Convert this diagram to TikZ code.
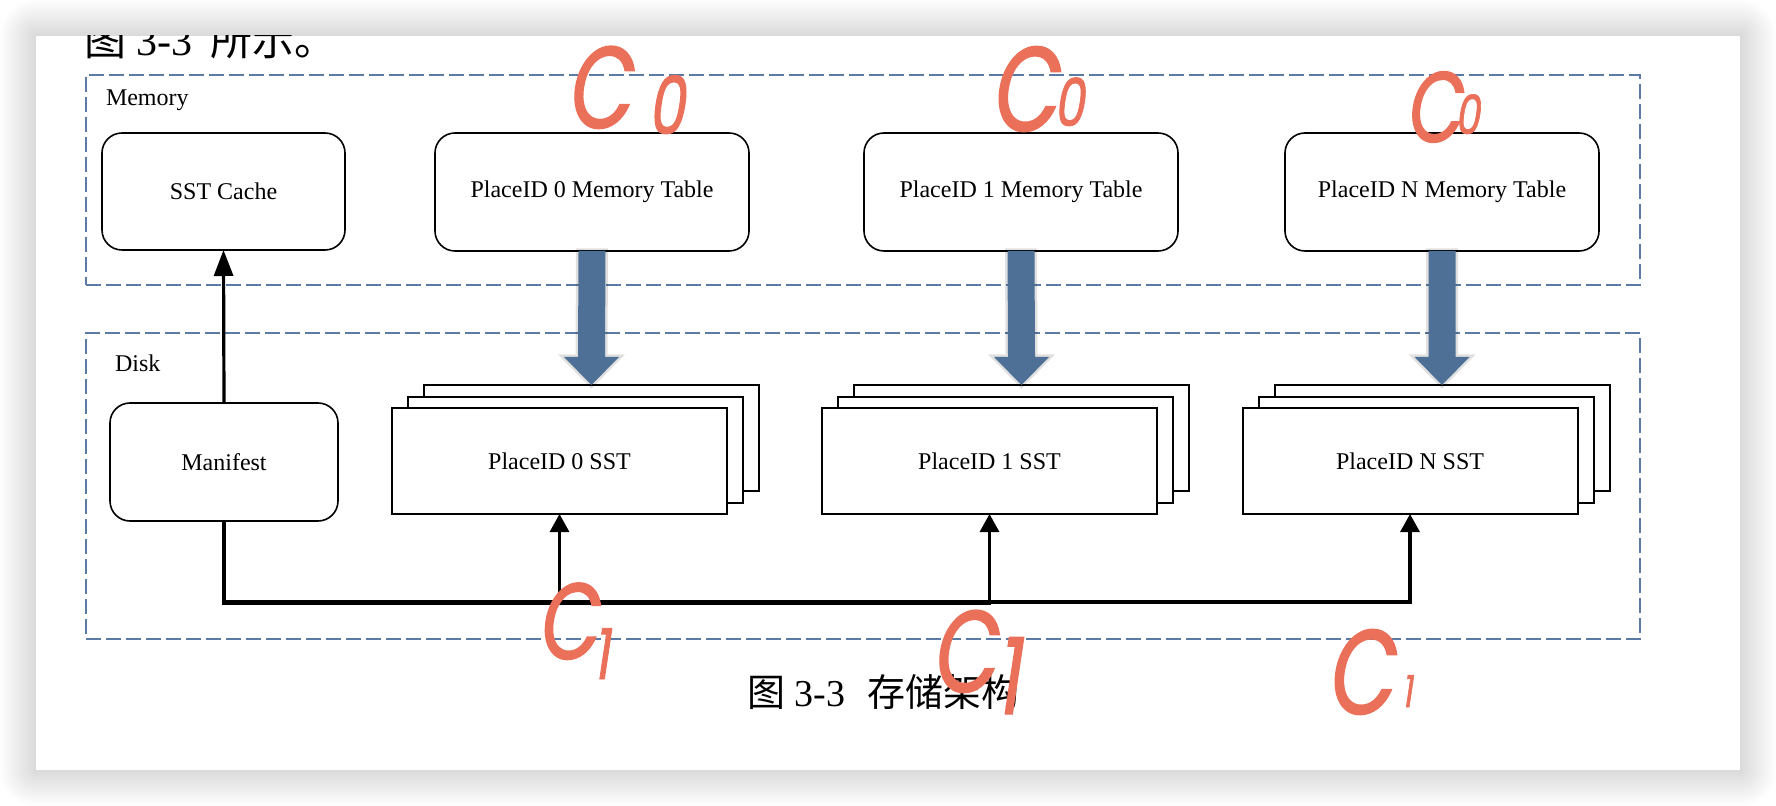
\documentclass[tikz,border=0pt]{standalone}
\usepackage{fontspec}
\setmainfont{Liberation Serif}
\newfontfamily\cjk{Noto Sans CJK SC}
\newfontfamily\handfont[FakeSlant=0.15,FakeStretch=0.72,FakeBold=1.2]{Poppins}
\usetikzlibrary{arrows.meta}
\definecolor{dashblue}{HTML}{5B7BA6}
\definecolor{arrowblue}{HTML}{4F7096}
\definecolor{handc}{HTML}{EB705A}
\tikzset{
  region/.style={draw=dashblue, line width=0.75pt, dash pattern=on 7.5pt off 2.5pt, inner sep=0pt, outer sep=0pt},
  lbl/.style={anchor=base west, inner sep=0pt, outer sep=0pt, font=\fontsize{12}{14}\selectfont},
  rbox/.style={draw, line width=0.8pt, rounded corners=10pt, fill=white, inner sep=0pt, outer sep=0pt, font=\fontsize{12}{14}\selectfont},
  sstbox/.style={draw, line width=1pt, fill=white, minimum width=167.5pt, minimum height=53pt, inner sep=0pt, outer sep=0pt, font=\fontsize{12}{14}\selectfont},
  bigarrow/.style={fill=arrowblue, preaction={draw=black, opacity=0.12, line width=2.5pt}},
  conn/.style={draw, line width=1.6pt},
  tipS/.style={-{Triangle[length=9pt,width=9.5pt]}},
  tipL/.style={-{Triangle[length=13pt,width=9.5pt]}},
  hw/.style={text=handc, anchor=base west, inner sep=0pt, outer sep=0pt, font=\handfont},
}
\begin{document}
\begin{tikzpicture}[x=0.5pt,y=-0.5pt]
\useasboundingbox (0,0) rectangle (1776,806);
\fill[white] (0,0) rectangle (1776,806);
% page shadow
\foreach \i in {1,...,18}
  \fill[black,opacity=0.009,rounded corners=\i pt] (36-2*\i,36-2*\i) rectangle (1740+2*\i,770+2*\i);
\fill[white] (36,36) rectangle (1740,770);
% clipped text at page top
\begin{scope}
  \clip (36,36) rectangle (1740,770);
  \node[anchor=base west, inner sep=0pt, font=\fontsize{21}{21}\selectfont] (toptext) at (84,56) {{\cjk 图} 3-3\hspace{8.75pt}{\cjk 所示。}};
\end{scope}

% regions
\node[region, minimum width=777pt, minimum height=105pt, anchor=north west] (memory) at (86,75) {};
\node[region, minimum width=777pt, minimum height=153pt, anchor=north west] (disk) at (86,333) {};
\node[lbl] (memlbl) at (106,106) {Memory};
\node[lbl] (disklbl) at (115,372) {Disk};

% memory boxes
\node[rbox, minimum width=121.5pt, minimum height=58.5pt] (cache) at (223.5,191.5) {SST Cache};
\node[rbox, minimum width=157pt, minimum height=59pt] (mt0) at (592,192) {PlaceID 0 Memory Table};
\node[rbox, minimum width=157pt, minimum height=59pt] (mt1) at (1021,192) {PlaceID 1 Memory Table};
\node[rbox, minimum width=157pt, minimum height=59pt] (mtN) at (1442,192) {PlaceID N Memory Table};

% disk boxes
\node[rbox, minimum width=114pt, minimum height=59pt] (man) at (224,462) {Manifest};
\foreach \n/\x/\t in {s0/559.5/0, s1/989.5/1, sN/1410/N} {
  \node[sstbox] (\n-b) at (\x+32,438) {};
  \node[sstbox] (\n-m) at (\x+16,450) {};
  \node[sstbox] (\n) at (\x,461) {PlaceID \t\ SST};
}

% big blue arrows
\foreach \m/\s in {mt0/s0-b, mt1/s1-b, mtN/sN-b} {
  \fill[bigarrow] ([xshift=-6.75pt]\m.south) -- ([xshift=6.75pt]\m.south)
    -- ([xshift=6.75pt,yshift=14pt]\s.north) -- ([xshift=13.75pt,yshift=14pt]\s.north)
    -- (\s.north) -- ([xshift=-13.75pt,yshift=14pt]\s.north)
    -- ([xshift=-6.75pt,yshift=14pt]\s.north) -- cycle;
}

% connectors
\draw[conn, tipL] (man.north) -- (cache.south);
\coordinate (bus) at (224,602);
\coordinate (busb) at (224,603);
\draw[conn, tipS] (man.south) -- (bus) -| (sN.south);
\draw[conn, tipS] (man.south) -- (busb) -| (s1.south);
\draw[conn, tipS] (man.south) -- (busb) -| (s0.south);

% caption
\node[anchor=base west, inner sep=0pt, font=\fontsize{19}{19}\selectfont] (caption) at (747,706) {{\cjk 图} 3-3\hspace{10.75pt}{\cjk 存储架构}};

% handwritten annotations
\node[hw] (hw0a) at (566,128) {\fontsize{58}{58}\selectfont\makebox[0pt][l]{C}\kern41pt\raisebox{-3pt}{\fontsize{40}{40}\selectfont 0}};
\node[hw] (hw0b) at (990,131) {\fontsize{60}{60}\selectfont\makebox[0pt][l]{C}\kern32pt\raisebox{2.5pt}{\fontsize{33}{33}\selectfont 0}};
\node[hw] (hw0c) at (1405,142) {\fontsize{50}{50}\selectfont\makebox[0pt][l]{C}\kern25pt\raisebox{4pt}{\fontsize{27}{27}\selectfont 0}};
\node[hw] (hw1a) at (537,659) {\fontsize{54}{54}\selectfont\makebox[0pt][l]{C}\kern28pt\raisebox{-10pt}{\fontsize{35}{35}\selectfont 1}};
\node[hw] (hw1b) at (931,692) {\fontsize{58}{58}\selectfont\makebox[0pt][l]{C}\kern32pt\raisebox{-11pt}{\fontsize{53}{53}\selectfont 1}};
\node[hw] (hw1c) at (1326,714) {\fontsize{60}{60}\selectfont\makebox[0pt][l]{C}\kern38pt\raisebox{3.5pt}{\fontsize{22}{22}\selectfont 1}};
\end{tikzpicture}
\end{document}
